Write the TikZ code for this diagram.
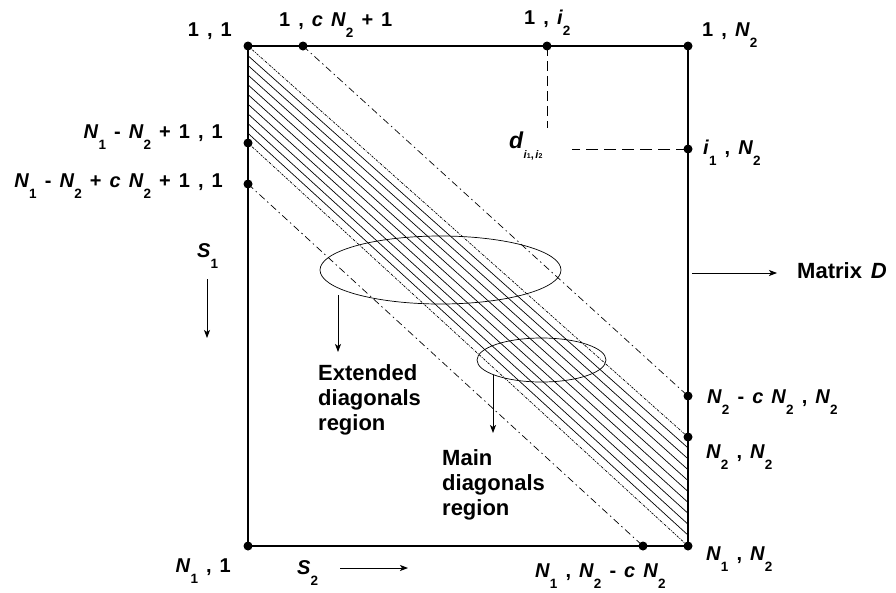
\documentclass[tikz,border=0pt]{standalone}
\usepackage{fontspec}
\setmainfont{Liberation Sans}[WordSpace=1.45]
\usetikzlibrary{shapes.geometric,arrows.meta,calc}
\newcommand{\lowsub}[1]{\raisebox{-11pt}{\fontsize{13.5}{13.5}\selectfont #1}}
\newcommand{\vN}[1]{\textit{N}\lowsub{#1}}
\tikzset{
  lab/.style={font=\fontsize{20}{22}\selectfont\bfseries, inner sep=0pt},
  txt/.style={font=\fontsize{22}{25}\selectfont\bfseries, inner sep=0pt, align=left, anchor=north west},
  bordo/.style={line width=2.3pt},
  band/.style={line width=0.7pt, dash pattern=on 2.5pt off 1.2pt on 0.8pt off 1.2pt},
  ext/.style={line width=0.7pt, dash pattern=on 7pt off 3.5pt on 1.5pt off 3.5pt},
  hatch/.style={line width=0.7pt},
  guide/.style={line width=0.7pt, dash pattern=on 12pt off 6pt},
  freccia/.style={line width=0.8pt, -{Stealth[length=8pt,width=6pt,inset=2pt]}},
}
\begin{document}
\begin{tikzpicture}[x=1pt, y=-1pt]
\useasboundingbox (0,0) rectangle (896,592);
% matrice
\coordinate (TL) at (248,46);
\coordinate (TR) at (688,46);
\coordinate (BL) at (248,546);
\coordinate (BR) at (688,546);
\coordinate (tc) at (303,46);
\coordinate (ti) at (547,46);
\coordinate (lA) at (248,143);
\coordinate (lB) at (248,184);
\coordinate (ri) at (688,149);
\coordinate (rc) at (688,396);
\coordinate (rN) at (688,437);
\coordinate (bc) at (643,546);
% diagonali
\foreach \k in {1,...,9}
  \draw[hatch] ($(TL)!\k/10!(lA)$) -- ($(rN)!\k/10!(BR)$);
\draw[band] (TL) -- (rN);
\draw[band] (lA) -- (BR);
\draw[ext] (tc) -- (rc);
\draw[ext] (lB) -- (bc);
% elemento d
\coordinate (dv) at (547,128);
\coordinate (dh) at (572,149);
\draw[guide, dash pattern=on 10pt off 5pt] (ti) -- (dv);
\draw[guide] (ri) -- (dh);
\node[lab, anchor=base west, font=\fontsize{23}{23}\selectfont\bfseries] (dlab) at (509,148)
  {\textit{d}\raisebox{-10pt}{\fontsize{11}{11}\selectfont\textit{i}{\fontsize{7}{7}\selectfont 1},\hspace{1.5pt}\textit{i}{\fontsize{7}{7}\selectfont 2}}};
\draw[bordo] (TL) rectangle (BR);
\foreach \p in {TL,TR,BL,BR,tc,ti,lA,lB,ri,rc,rN,bc}
  \fill (\p) circle (4.5pt);
% regioni
\node[draw, ellipse, line width=0.7pt, minimum width=241pt, minimum height=68pt, inner sep=0pt] (extreg) at (440.5,270) {};
\node[draw, ellipse, line width=0.7pt, minimum width=129pt, minimum height=44pt, inner sep=0pt] (mainreg) at (541.5,360) {};
\coordinate (extA) at (338,295);
\coordinate (extB) at (338,352);
\coordinate (mainA) at (493,375);
\coordinate (mainB) at (493,433);
\draw[freccia] (extA) -- (extB);
\draw[freccia] (mainA) -- (mainB);
\node[txt] (exttxt) at (318,364) {Extended\\diagonals\\region};
\node[txt] (maintxt) at (442,449) {Main\\diagonals\\region};
% etichette
\node[lab, anchor=base east] (l11) at (232,36) {1 , 1};
\node[lab, anchor=base west] (ltc) at (279,26) {1 , \textit{c} \vN{2} + 1};
\node[lab, anchor=base west] (lti) at (524,24) {1 , \textit{i}\lowsub{2}};
\node[lab, anchor=base west] (ltr) at (702,36) {1 , \vN{2}};
\node[lab, anchor=base east] (llA) at (223,138) {\vN{1} - \vN{2} + 1 , 1};
\node[lab, anchor=base east] (llB) at (223,187) {\vN{1} - \vN{2} + \textit{c} \vN{2} + 1 , 1};
\node[lab, anchor=base west] (lri) at (703,154) {\textit{i}\lowsub{1} , \vN{2}};
\node[lab, anchor=base west] (lrc) at (707,403) {\vN{2} - \textit{c} \vN{2} , \vN{2}};
\node[lab, anchor=base west] (lrN) at (706,458) {\vN{2} , \vN{2}};
\node[lab, anchor=base west] (lbr) at (706,560) {\vN{1} , \vN{2}};
\node[lab, anchor=base west] (lbc) at (535,577) {\vN{1} , \vN{2} - \textit{c} \vN{2}};
\node[lab, anchor=base east] (lbl) at (231,572) {\vN{1} , 1};
% versi
\node[lab, anchor=base west] (s1) at (197,257) {\textit{S}\lowsub{1}};
\coordinate (s1a) at (207,279);
\coordinate (s1b) at (207,338);
\draw[freccia] (s1a) -- (s1b);
\node[lab, anchor=base west] (s2) at (297,574) {\textit{S}\lowsub{2}};
\coordinate (s2a) at (340,568);
\coordinate (s2b) at (408,568);
\draw[freccia] (s2a) -- (s2b);
\coordinate (ma) at (692,273);
\coordinate (mb) at (777,273);
\draw[freccia] (ma) -- (mb);
\node[txt, anchor=base west] (mlab) at (797,278) {Matrix \textit{D}};
\end{tikzpicture}
\end{document}
